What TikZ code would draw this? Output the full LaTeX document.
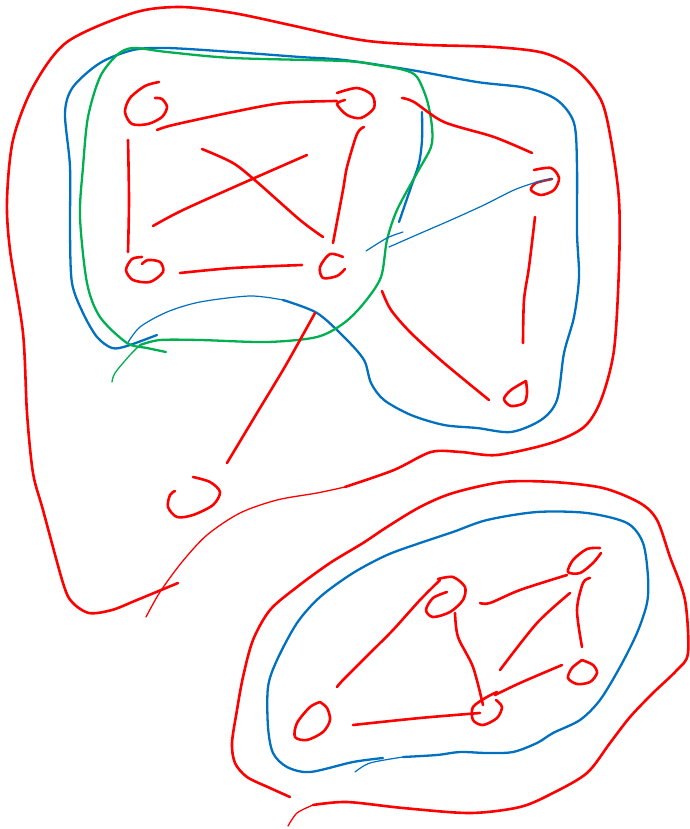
\documentclass[tikz,border=0pt]{standalone}
\definecolor{penred}{HTML}{FF0000}
\definecolor{penblue}{HTML}{0070C0}
\definecolor{pengreen}{HTML}{00B050}
\begin{document}
\begin{tikzpicture}[x=1pt,y=-1pt,line cap=round,line join=round,
  redpen/.style={draw=penred,line width=2.6pt},
  redthin/.style={draw=penred,line width=1.3pt},
  bluepen/.style={draw=penblue,line width=2.3pt},
  bluethin/.style={draw=penblue,line width=1.2pt},
  greenpen/.style={draw=pengreen,line width=2.3pt},
  greenthin/.style={draw=pengreen,line width=1.3pt},
  vtx/.style={redpen}]
\useasboundingbox (0,0) rectangle (689,829);
% vertex centres
\coordinate (A) at (147,105);
\coordinate (B) at (355,103);
\coordinate (C) at (145,270);
\coordinate (D) at (333,267);
\coordinate (E) at (545,181);
\coordinate (F) at (516,395);
\coordinate (G) at (195,497);
\coordinate (H) at (447,597);
\coordinate (I) at (585,561);
\coordinate (J) at (583,671);
\coordinate (K) at (312,720);
\coordinate (L) at (487,708);
% ---------- enclosures ----------
% big red (top)
\draw[redthin] plot[smooth] coordinates {(146,617) (160,592) (182,562) (207,535) (240,513) (277,500) (317,493) (345,487)};
\draw[redpen] plot[smooth] coordinates {(345,487) (394,470) (431,452) (461,452) (497,455) (551,443) (584,427) (601,400) (614,350) (619,267) (619,200) (611,140) (601,100) (577,70) (544,53) (494,47) (427,45) (377,42) (344,37) (290,25) (233,13) (180,7) (133,13) (67,42) (33,87) (13,140) (7,200) (10,250) (23,333) (27,413) (33,473) (43,510) (63,583) (72,602) (89,613) (112,610) (137,600) (178,583)};
% blue (top)
\draw[bluethin] plot[smooth] coordinates {(127,344) (140,327) (167,312) (200,302) (250,296) (283,300)};
\draw[bluepen] plot[smooth] coordinates {(283,300) (317,313) (345,338) (364,360) (371,383) (384,400) (411,415) (444,425) (477,428) (511,432) (541,420) (557,400) (564,353) (574,317) (579,277) (577,233) (577,167) (574,123) (557,100) (527,88) (477,82) (411,70) (344,60) (300,57) (233,52) (167,48) (133,50) (100,63) (73,87) (65,113) (70,167) (70,233) (72,283) (83,313) (97,337) (112,348) (127,346) (157,335)};
\draw[bluepen] plot[smooth] coordinates {(422,112) (422,140) (419,163) (411,187) (399,222)};
% green
\draw[greenthin] plot[smooth] coordinates {(112,382) (115,373) (130,355) (140,345)};
\draw[greenpen] plot[smooth] coordinates {(140,345) (160,340) (200,340) (267,342) (317,337) (344,323) (364,303) (381,277) (387,240) (397,210) (417,173) (431,147) (432,127) (427,100) (417,77) (404,70) (377,65) (344,61) (233,58) (167,52) (133,48) (117,55) (100,77) (88,117) (83,167) (80,217) (87,283) (100,317) (127,343) (147,348) (166,352)};
% bottom blue
\draw[bluepen] plot[smooth] coordinates {(383,758) (353,762) (310,772) (287,767) (273,753) (268,727) (268,687) (277,660) (297,623) (320,597) (353,573) (387,555) (420,543) (453,532) (487,520) (537,512) (587,513) (627,523) (643,543) (648,577) (647,603) (637,633) (620,667) (600,700) (580,720) (553,733) (537,743) (513,752) (487,753) (460,752) (437,755) (403,757)};
\draw[bluethin] plot[smooth] coordinates {(403,757) (370,763) (355,772)};
% bottom red
\draw[redpen] plot[smooth] coordinates {(290,797) (270,788) (247,777) (235,763) (232,743) (237,710) (243,677) (253,640) (270,610) (297,587) (330,563) (363,543) (387,527) (420,507) (453,493) (503,482) (553,482) (603,488) (640,503) (657,520) (670,557) (685,600) (688,653) (677,670) (653,693) (630,717) (610,743) (587,773) (553,793) (520,807) (470,813) (403,808) (347,802) (313,805)};
\draw[redthin] plot[smooth] coordinates {(313,805) (297,813) (288,826)};
% ---------- vertices ----------
\draw[vtx] plot[smooth] coordinates {(159,82) (145,86) (130,98) (125,112) (132,124) (148,124) (162,117) (167,107) (162,99) (155,98)};
\draw[vtx] plot[smooth] coordinates {(337,93) (357,88) (372,95) (374,108) (361,118) (347,115) (337,104) (345,100)};
\draw[vtx] plot[smooth] coordinates {(142,257) (132,259) (126,270) (133,280) (150,282) (163,272) (160,262) (148,260) (142,264)};
\draw[vtx] plot[smooth] coordinates {(343,257) (330,254) (320,267) (323,278) (337,276) (345,269)};
\draw[vtx] plot[smooth] coordinates {(534,170) (551,168) (559,178) (554,190) (541,195) (531,190) (536,183) (552,179)};
\draw[vtx] plot[smooth] coordinates {(526,381) (511,390) (504,399) (511,406) (524,403) (527,393) (526,381)};
\draw[vtx] plot[smooth] coordinates {(193,477) (210,482) (220,492) (213,505) (193,515) (177,517) (168,507) (170,495) (175,491)};
\draw[vtx] plot[smooth] coordinates {(438,579) (453,577) (465,587) (463,600) (450,612) (433,617) (426,610) (433,598) (447,592)};
\draw[vtx] plot[smooth] coordinates {(600,548) (587,549) (573,560) (568,572) (580,573) (593,563) (601,553)};
\draw[vtx] plot[smooth] coordinates {(582,660) (593,665) (597,673) (590,682) (577,684) (568,678) (572,668) (582,660)};
\draw[vtx] plot[smooth] coordinates {(320,702) (310,707) (297,723) (295,737) (307,740) (323,732) (330,720) (327,708) (320,702)};
\draw[vtx] plot[smooth] coordinates {(497,692) (487,697) (473,707) (473,720) (483,725) (497,718) (502,707) (496,700)};
% ---------- edges ----------
\draw[redpen] plot[smooth] coordinates {(157,130) (173,125) (233,112) (283,103) (337,101)}; % A-B
\draw[redpen] plot[smooth] coordinates {(128,140) (129,200) (128,252)}; % A-C
\draw[redpen] plot[smooth] coordinates {(202,149) (233,163) (257,182) (300,220) (323,237)}; % A-D
\draw[redpen] plot[smooth] coordinates {(153,226) (183,210) (250,180) (307,155)}; % C-B
\draw[redpen] plot[smooth] coordinates {(180,273) (233,268) (302,265)}; % C-D
\draw[redpen] plot[smooth] coordinates {(364,127) (357,134) (347,167) (343,190) (333,243)}; % B-D
\draw[redpen] plot[smooth] coordinates {(315,313) (300,340) (283,370) (257,413) (227,463)}; % D-G
\draw[redpen] plot[smooth] coordinates {(402,98) (414,102) (444,122) (494,137) (532,153)}; % B-E
\draw[redpen] plot[smooth] coordinates {(535,217) (529,267) (524,300) (523,343)}; % E-F
\draw[redpen] plot[smooth] coordinates {(382,291) (391,310) (411,333) (444,363) (489,400)}; % D-F
\draw[bluethin] plot[smooth] coordinates {(366,251) (387,238) (403,232)};
\draw[bluethin] plot[smooth] coordinates {(389,247) (421,233) (451,220) (484,205) (514,190) (537,182) (552,179)}; % D-E
\draw[redpen] plot[smooth] coordinates {(337,687) (343,680) (370,653) (393,630) (420,600) (440,580)}; % K-H
\draw[redpen] plot[smooth] coordinates {(455,613) (458,637) (473,667) (483,705)}; % H-L
\draw[redpen] plot[smooth] coordinates {(480,603) (490,603) (520,590) (567,575)}; % H-I
\draw[redpen] plot[smooth] coordinates {(570,593) (537,623) (500,670)}; % I-L
\draw[redpen] plot[smooth] coordinates {(590,578) (583,583) (577,610) (582,647)}; % I-J
\draw[redpen] plot[smooth] coordinates {(495,695) (520,683) (562,665)}; % L-J
\draw[redpen] plot[smooth] coordinates {(353,725) (420,718) (480,713)}; % K-L
\end{tikzpicture}
\end{document}
